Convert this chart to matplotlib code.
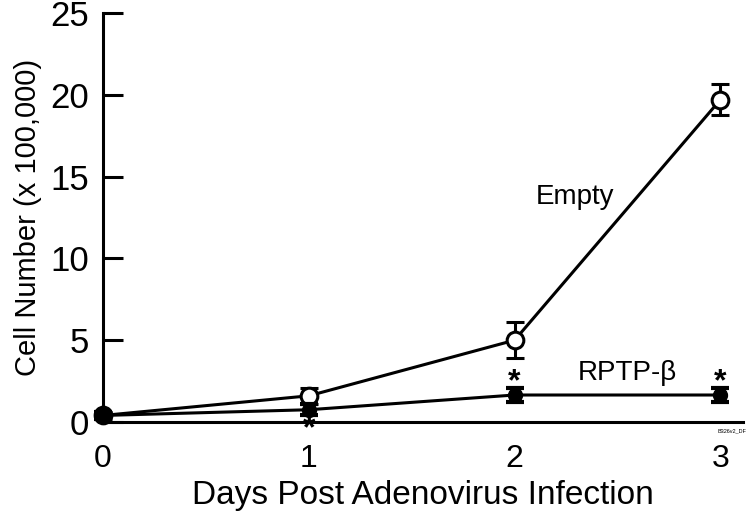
import matplotlib
matplotlib.use("Agg")
import matplotlib.pyplot as plt

plt.rcParams["font.family"] = ["Liberation Sans", "DejaVu Sans"]

# ── Data (cell number x 100,000) ───────────────────────────────────────────
days = [0, 1, 2, 3]
empty_mean = [0.4, 1.6, 5.0, 19.7]
empty_err = [0.2, 0.5, 1.1, 0.95]
rptp_mean = [0.4, 0.75, 1.65, 1.65]
rptp_err = [0.2, 0.35, 0.45, 0.4]

# significance marks: (day, y position of the asterisk)
star_days = [1, 2, 3]
star_y = [-0.45, 2.45, 2.45]

fig = plt.figure(figsize=(7.5, 5.14), dpi=100)
ax = fig.add_axes([103 / 750, 1 - 422 / 514, 640 / 750, 409 / 514])

lw = 2.2
ax.errorbar(days, empty_mean, yerr=empty_err, color="black", lw=lw,
            marker="o", ms=12, mfc="white", mec="black", mew=2.2,
            capsize=6.5, capthick=2.2, elinewidth=2.2, zorder=3)
ax.errorbar(days, rptp_mean, yerr=rptp_err, color="black", lw=lw,
            marker="o", ms=10, mfc="black", mec="black",
            capsize=6.5, capthick=3, elinewidth=6, zorder=4)

for d, y in zip(star_days, star_y):
    ax.text(d, y, "*", ha="center", va="center", fontsize=23,
            fontweight="bold", zorder=6)

ax.text(2.295, 13.75, "Empty", ha="center", va="center", fontsize=20)
ax.text(2.548, 3.0, "RPTP-β", ha="center", va="center", fontsize=20)
ax.text(2.985, -0.4, "B326v2_DF", ha="left", va="top", fontsize=4)

ax.set_xlim(0, 3.11)
ax.set_ylim(0, 25)
ax.set_xticks(days)
ax.set_yticks([0, 5, 10, 15, 20, 25])
ax.tick_params(axis="x", length=0, labelsize=23, pad=16)
ax.tick_params(axis="y", direction="in", length=14.5, width=2.2, labelsize=25, pad=10)

for s in ["top", "right"]:
    ax.spines[s].set_visible(False)
for s in ["left", "bottom"]:
    ax.spines[s].set_linewidth(2.2)

ax.set_xlabel("Days Post Adenovirus Infection", fontsize=24, labelpad=4)
ax.set_ylabel("Cell Number (x 100,000)", fontsize=21, labelpad=6)

for t in ax.get_children():
    if hasattr(t, "set_clip_on"):
        t.set_clip_on(False)

fig.savefig("out.png", dpi=100)
